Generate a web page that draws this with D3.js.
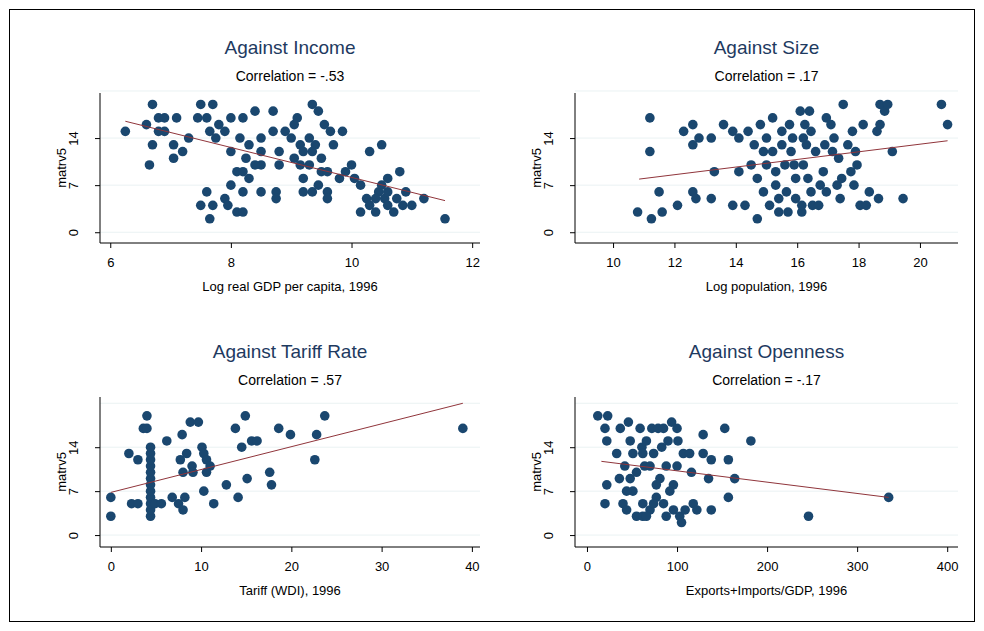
<!DOCTYPE html>
<html><head><meta charset="utf-8">
<script src="https://cdn.jsdelivr.net/npm/d3@7"></script>
<style>body{margin:0;background:#fff}text{font-family:Arial,"Liberation Sans",sans-serif}</style>
</head><body><div id="chart"></div>
<script>
// [x, matrv5]
const incomePts = [[6.25,15],[6.6,16],[6.7,19],[6.7,13],[6.65,10],[6.8,17],[6.8,15],[6.9,15],[6.9,17],[7.05,13],[7.05,11],[7.2,12],[7.1,17],[7.3,14],[7.45,17],[7.5,19],[7.7,19],[7.6,17],[7.65,15],[7.8,16],[7.9,15],[7.75,14],[8,12],[8,17],[8.2,17],[8.4,18],[8.7,18],[8.15,14],[8.3,13],[8.5,12],[8.5,14],[8.7,15],[8.8,12],[8.8,10],[8.5,10],[8.25,11],[8.1,9],[8.2,9],[8.3,8],[8.4,10],[8,7],[8.2,6],[8.5,6],[8.75,6],[8.75,5],[7.9,5],[7.95,4],[8.1,3],[8.2,3],[7.6,6],[7.5,4],[7.7,4],[7.65,2],[8.9,15],[9,14],[9.05,16],[9.15,13],[9.3,14],[9.4,13],[9.35,12],[9.5,11],[9.2,12],[9.05,11],[9.15,10],[9.3,10],[9.5,9],[9.1,17],[9.35,19],[9.45,18],[9.55,16],[9.65,15],[9.85,15],[9.7,13],[9.2,8],[9.2,6],[9.35,6],[9.45,7],[9.6,6],[9.6,5],[9.6,9],[9.8,8],[9.9,9],[10,10],[10.05,8],[10.15,7],[10.3,12],[10.5,13],[10.6,8],[10.8,9],[10.15,3],[10.25,5],[10.3,4],[10.4,3],[10.45,6],[10.5,7],[10.55,5],[10.6,4],[10.7,3],[10.75,5],[10.85,4],[10.9,6],[11,4],[11.2,5],[11.55,2],[10.4,5],[10.6,6]]
const sizePts = [[10.8,3],[11.2,17],[11.2,12],[11.25,2],[11.5,6],[11.6,3],[12.1,4],[12.3,15],[12.6,16],[12.6,13],[12.6,6],[12.7,5],[12.8,14],[13.2,14],[13.2,5],[13.3,9],[13.6,16],[13.9,15],[13.9,4],[14.1,14],[14.1,9],[14.3,4],[14.4,15],[14.5,10],[14.6,13],[14.7,2],[14.7,8],[14.8,16],[14.9,12],[14.9,6],[15,10],[15,14],[15.1,4],[15.2,17],[15.2,12],[15.3,7],[15.3,9],[15.4,3],[15.4,5],[15.5,15],[15.5,13],[15.6,10],[15.65,6],[15.7,3],[15.75,16],[15.8,12],[15.85,14],[15.9,10],[15.95,8],[15.95,5],[16.1,18],[16.15,3],[16.15,4],[16.2,10],[16.2,14],[16.25,16],[16.3,13],[16.35,8],[16.4,18],[16.45,15],[16.45,6],[16.5,4],[16.6,12],[16.7,4],[16.75,7],[16.85,9],[16.9,13],[16.95,17],[16.95,6],[17.1,16],[17.15,12],[17.2,14],[17.3,7],[17.35,11],[17.4,5],[17.45,8],[17.5,19],[17.65,13],[17.75,9],[17.8,15],[17.85,7],[17.9,12],[17.95,10],[18.05,4],[18.15,16],[18.25,4],[18.35,6],[18.6,15],[18.65,5],[18.7,16],[18.7,19],[18.85,18],[18.95,19],[19.1,12],[19.45,5],[20.7,19],[20.9,16]]
const tariffPts = [[0,6],[0,3],[2,13],[2.3,5],[3,5],[3,12],[3.6,17],[4,19],[4,17],[4.4,3],[4.4,4],[4.4,5],[4.4,6],[4.4,7],[4.4,8],[4.4,9],[4.4,10],[4.4,11],[4.4,12],[4.4,13],[4.4,14],[4.9,5],[5.6,5],[6.2,15],[6.8,6],[7.5,5],[8,4],[8.2,6],[7.9,16],[7.7,12],[8.4,13],[8,10],[9,11],[9.1,10],[8.8,18],[9.7,18],[10.1,14],[10.3,13],[10.6,12],[11,11],[10.6,10],[10.3,7],[11.4,5],[12.8,8],[13.8,17],[14.1,6],[14.5,14],[14.9,19],[15.1,9],[15.6,15],[16.2,15],[17.6,10],[17.8,8],[18.6,17],[19.9,16],[22.6,12],[22.8,16],[23.7,19],[39,17]]
const openPts = [[12,19],[23,19],[20,17],[22,15],[22,8],[20,5],[33,13],[37,17],[42,11],[40,5],[44,4],[46,18],[48,15],[48,9],[51,13],[51,7],[55,10],[55,3],[59,17],[61,14],[62,5],[62,3],[64,11],[66,15],[70,4],[72,17],[74,13],[77,6],[77,8],[79,17],[81,9],[83,14],[85,5],[88,11],[90,15],[94,18],[96,8],[96,4],[100,11],[101,15],[103,3],[105,2],[107,13],[109,4],[114,13],[116,10],[118,5],[122,4],[129,16],[129,13],[135,9],[138,4],[138,12],[153,17],[157,12],[157,6],[164,9],[182,15],[246,3],[335,6],[36,9],[44,7],[66,3],[74,5],[88,3],[92,7],[85,17],[100,17],[70,11],[62,13]]
// fitted line end points
const incomeFit = [[6.25,16.5],[11.55,4.7]]
const sizeFit = [[10.85,7.9],[20.9,13.6]]
const tariffFit = [[0,6.8],[39,21]]
const openFit = [[16,11.75],[335,6]]
const titles = ['Against Income','Against Size','Against Tariff Rate','Against Openness']
const corrs = ['-.53','.17','.57','-.17']
const xTitles = ['Log real GDP per capita, 1996','Log population, 1996','Tariff (WDI), 1996','Exports+Imports/GDP, 1996']
const xTicks = [[6,8,10,12],[10,12,14,16,18,20],[0,10,20,30,40],[0,100,200,300,400]]
const yTicks = [0,7,14]

const W = 984, H = 631
const svg = d3.select('#chart').append('svg').attr('width', W).attr('height', H)
svg.append('rect').attr('x', 9.5).attr('y', 9.5).attr('width', 965).attr('height', 612)
   .attr('fill', '#fff').attr('stroke', '#000')

const panels = [
   { pts: incomePts, fit: incomeFit, xd: [5.83, 12.13], yd: [-1.6, 20.7], l: 100, r: 480, t: 93, b: 243 },
   { pts: sizePts, fit: sizeFit, xd: [8.76, 21.24], yd: [-1.6, 20.7], l: 575, r: 958, t: 93, b: 243 },
   { pts: tariffPts, fit: tariffFit, xd: [-1.2, 40.9], yd: [-1.9, 22.0], l: 100, r: 480, t: 397, b: 547 },
   { pts: openPts, fit: openFit, xd: [-13.3, 412], yd: [-1.9, 22.0], l: 575, r: 958, t: 397, b: 547 },
]

panels.forEach((p, i) => {
   const x = d3.scaleLinear().domain(p.xd).range([p.l, p.r])
   const y = d3.scaleLinear().domain(p.yd).range([p.b, p.t])
   const g = svg.append('g')
   const cx = (p.l + p.r) / 2

   g.selectAll('.grid').data([0, 7, 14, 21]).enter().append('line')
      .attr('x1', p.l).attr('x2', p.r).attr('y1', d => y(d)).attr('y2', d => y(d))
      .attr('stroke', '#eaf2f3').attr('stroke-width', 1)

   const xa = g.append('g').attr('transform', `translate(0,${p.b})`)
      .call(d3.axisBottom(x).tickValues(xTicks[i]).tickFormat(d3.format('d')).tickSize(5).tickPadding(10))
   xa.select('.domain').attr('d', `M${p.l},0H${p.r}`)
   xa.selectAll('text').attr('font-size', 13).attr('fill', '#000')

   const ya = g.append('g').attr('transform', `translate(${p.l},0)`)
      .call(d3.axisLeft(y).tickValues(yTicks).tickSize(5))
   ya.select('.domain').attr('d', `M0,${p.t}V${p.b}`)
   ya.selectAll('text').attr('font-size', 13).attr('fill', '#000')
      .attr('transform', 'rotate(-90)')
      .attr('x', 0).attr('y', -22).attr('dy', 0)
      .attr('text-anchor', 'middle')
   g.selectAll('.tick line').attr('stroke', '#000')

   g.selectAll('circle').data(p.pts).enter().append('circle')
      .attr('cx', d => x(d[0])).attr('cy', d => y(d[1])).attr('r', 4.8)
      .attr('fill', '#1a476f')

   g.append('line')
      .attr('x1', x(p.fit[0][0])).attr('y1', y(p.fit[0][1]))
      .attr('x2', x(p.fit[1][0])).attr('y2', y(p.fit[1][1]))
      .attr('stroke', '#90353b').attr('stroke-width', 1)

   g.append('text').attr('x', cx).attr('y', p.t - 39).attr('text-anchor', 'middle')
      .attr('font-size', 19).attr('fill', '#1e3a5f').text(titles[i])
   g.append('text').attr('x', cx).attr('y', p.t - 12).attr('text-anchor', 'middle')
      .attr('font-size', 14).text('Correlation = ' + corrs[i])
   g.append('text').attr('x', cx).attr('y', p.b + 48).attr('text-anchor', 'middle')
      .attr('font-size', 13).text(xTitles[i])
   g.append('text').attr('transform', `translate(${p.l - 34},${(p.t + p.b) / 2}) rotate(-90)`)
      .attr('text-anchor', 'middle').attr('font-size', 13).text('matrv5')
})
</script></body></html>
